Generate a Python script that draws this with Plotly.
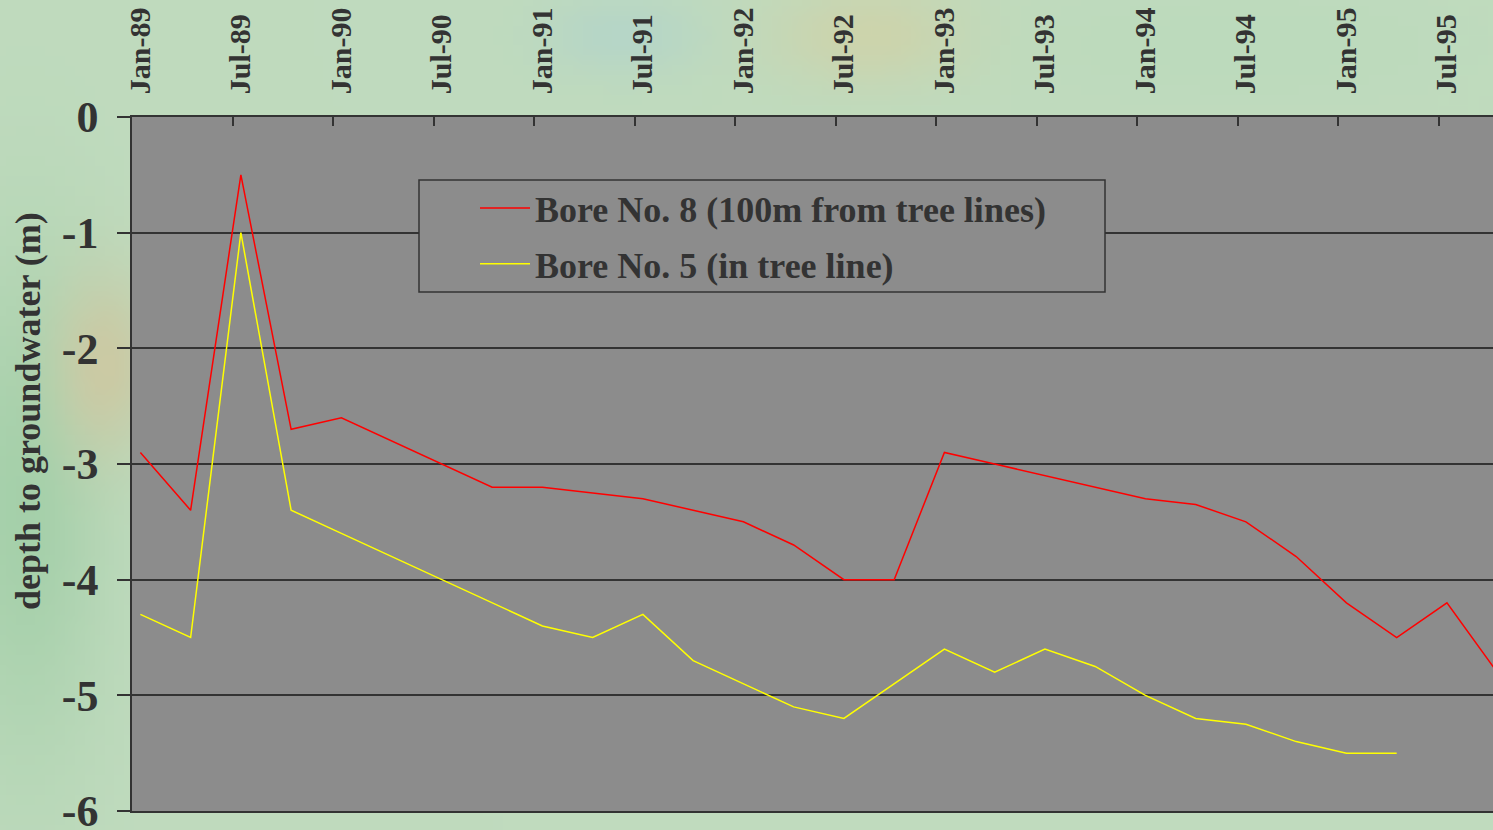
import base64
import struct
import zlib

import numpy as np
import plotly.graph_objects as go

# Quarterly readings, months counted from Jan-89
months_red = list(range(0, 82, 3))
depth_bore8 = [-2.9, -3.4, -0.5, -2.7, -2.6, -2.8, -3.0, -3.2, -3.2, -3.25,
               -3.3, -3.4, -3.5, -3.7, -4.0, -4.0, -2.9, -3.0, -3.1, -3.2,
               -3.3, -3.35, -3.5, -3.8, -4.2, -4.5, -4.2, -4.8]
months_yellow = list(range(0, 76, 3))
depth_bore5 = [-4.3, -4.5, -1.0, -3.4, -3.6, -3.8, -4.0, -4.2, -4.4, -4.5,
               -4.3, -4.7, -4.9, -5.1, -5.2, -4.9, -4.6, -4.8, -4.6, -4.75,
               -5.0, -5.2, -5.25, -5.4, -5.5, -5.5]

tick_months = list(range(0, 79, 6))
tick_labels = ["Jan-89", "Jul-89", "Jan-90", "Jul-90", "Jan-91", "Jul-91",
               "Jan-92", "Jul-92", "Jan-93", "Jul-93", "Jan-94", "Jul-94",
               "Jan-95", "Jul-95"]
y_ticks = [0, -1, -2, -3, -4, -5, -6]
y_tick_labels = ["0", "-1", "-2", "-3", "-4", "-5", "-6"]

name_bore8 = "Bore No. 8 (100m from tree lines)"
name_bore5 = "Bore No. 5 (in tree line)"
y_title = "depth to groundwater (m)"

SERIF = "Liberation Serif, Times New Roman, serif"
INK = "#333333"
PLOT_BG = "#8c8c8c"

FIG_W, FIG_H = 1493, 830
M_L, M_R, M_T, M_B = 132, 0, 117, 19
PW, PH = FIG_W - M_L - M_R, FIG_H - M_T - M_B


def px_x(px):
    """Figure pixel column -> paper x."""
    return (px - M_L) / PW


def px_y(py):
    """Figure pixel row -> paper y."""
    return (FIG_H - M_B - py) / PH


def png_uri(rgb):
    """Encode an HxWx3 uint8 array as a PNG data URI."""
    h, w, _ = rgb.shape
    raw = b"".join(b"\x00" + rgb[i].tobytes() for i in range(h))

    def chunk(tag, data):
        return (struct.pack(">I", len(data)) + tag + data
                + struct.pack(">I", zlib.crc32(tag + data) & 0xFFFFFFFF))

    png = (b"\x89PNG\r\n\x1a\n"
           + chunk(b"IHDR", struct.pack(">IIBBBBB", w, h, 8, 2, 0, 0, 0))
           + chunk(b"IDAT", zlib.compress(raw, 9))
           + chunk(b"IEND", b""))
    return "data:image/png;base64," + base64.b64encode(png).decode()


# Soft green backdrop with a warmer patch on the left
W, H = 150, 83
yy, xx = np.mgrid[0:H, 0:W].astype(float)
img = np.ones((H, W, 3)) * np.array([192, 219, 190], float)
blobs = [
    (2, 50, 8, 25, [165, 208, 170]),
    (10, 36, 5, 9, [204, 202, 164]),
    (87, 3, 10, 5, [206, 212, 172]),
    (62, 3, 8, 4, [182, 214, 200]),
    (125, 4, 20, 5, [188, 219, 188]),
]
for cx, cy, sx, sy, col in blobs:
    wgt = np.exp(-(((xx - cx) / sx) ** 2 + ((yy - cy) / sy) ** 2))[..., None]
    img = img * (1 - wgt) + np.array(col, float) * wgt
backdrop = png_uri(np.clip(img, 0, 255).astype(np.uint8))

fig = go.Figure()
fig.add_trace(go.Scatter(x=months_red, y=depth_bore8, mode="lines",
                         name=name_bore8, legendgroup="b8",
                         line=dict(color="#ff0000", width=1.5)))
fig.add_trace(go.Scatter(x=months_yellow, y=depth_bore5, mode="lines",
                         name=name_bore5, legendgroup="b5",
                         line=dict(color="#ffff00", width=1.5)))

fig.update_layout(
    width=FIG_W, height=FIG_H,
    margin=dict(l=M_L, r=M_R, t=M_T, b=M_B, autoexpand=False),
    paper_bgcolor="#bcd8b8",
    plot_bgcolor=PLOT_BG,
    font=dict(family=SERIF, color=INK, weight="bold"),
    images=[dict(source=backdrop, xref="paper", yref="paper",
                 x=px_x(0), y=px_y(0),
                 sizex=FIG_W / PW, sizey=FIG_H / PH,
                 xanchor="left", yanchor="top", sizing="stretch",
                 layer="below")],
    shapes=[
        # grey plotting panel over the backdrop
        dict(type="rect", xref="x domain", yref="y domain",
             x0=0, x1=1, y0=0, y1=1, layer="below",
             fillcolor=PLOT_BG, line=dict(width=0)),
        # legend frame
        dict(type="rect", xref="paper", yref="paper",
             x0=px_x(419), x1=px_x(1105), y0=px_y(292), y1=px_y(180),
             layer="above", fillcolor=PLOT_BG,
             line=dict(color=INK, width=1.5)),
    ],
    annotations=[dict(text=y_title, textangle=-90, showarrow=False,
                      xref="paper", yref="paper",
                      x=px_x(28), y=px_y(411),
                      xanchor="center", yanchor="middle",
                      font=dict(family=SERIF, size=36, color=INK,
                                weight="bold"))],
    showlegend=True,
    legend=dict(
        x=px_x(475), y=px_y(178), xanchor="left", yanchor="top",
        bgcolor="rgba(0,0,0,0)", borderwidth=0,
        font=dict(family=SERIF, size=36, color=INK, weight="bold"),
        itemwidth=50, tracegroupgap=6,
    ),
    xaxis=dict(
        side="top", range=[-0.5, 80.75], automargin=False,
        tickmode="array",
        tickvals=[m - 0.5 for m in tick_months], ticktext=tick_labels,
        ticklabelshift=8, ticklabelstandoff=15, tickangle=-90,
        ticks="inside", ticklen=9, tickwidth=1.5, tickcolor=INK,
        showline=True, linecolor=INK, linewidth=1.5, mirror=True,
        showgrid=False, zeroline=False,
        tickfont=dict(family=SERIF, size=30, color=INK, weight="bold"),
    ),
    yaxis=dict(
        range=[-6, 0], automargin=False,
        tickmode="array", tickvals=y_ticks, ticktext=y_tick_labels,
        ticks="outside", ticklen=13, tickwidth=1.5, tickcolor=INK,
        ticklabelstandoff=10, ticklabeloverflow="allow",
        showline=True, linecolor=INK, linewidth=1.5,
        showgrid=True, gridcolor=INK, gridwidth=1.5, zeroline=False,
        tickfont=dict(family=SERIF, size=44, color=INK, weight="bold"),
    ),
)

fig.write_html("out.html")
